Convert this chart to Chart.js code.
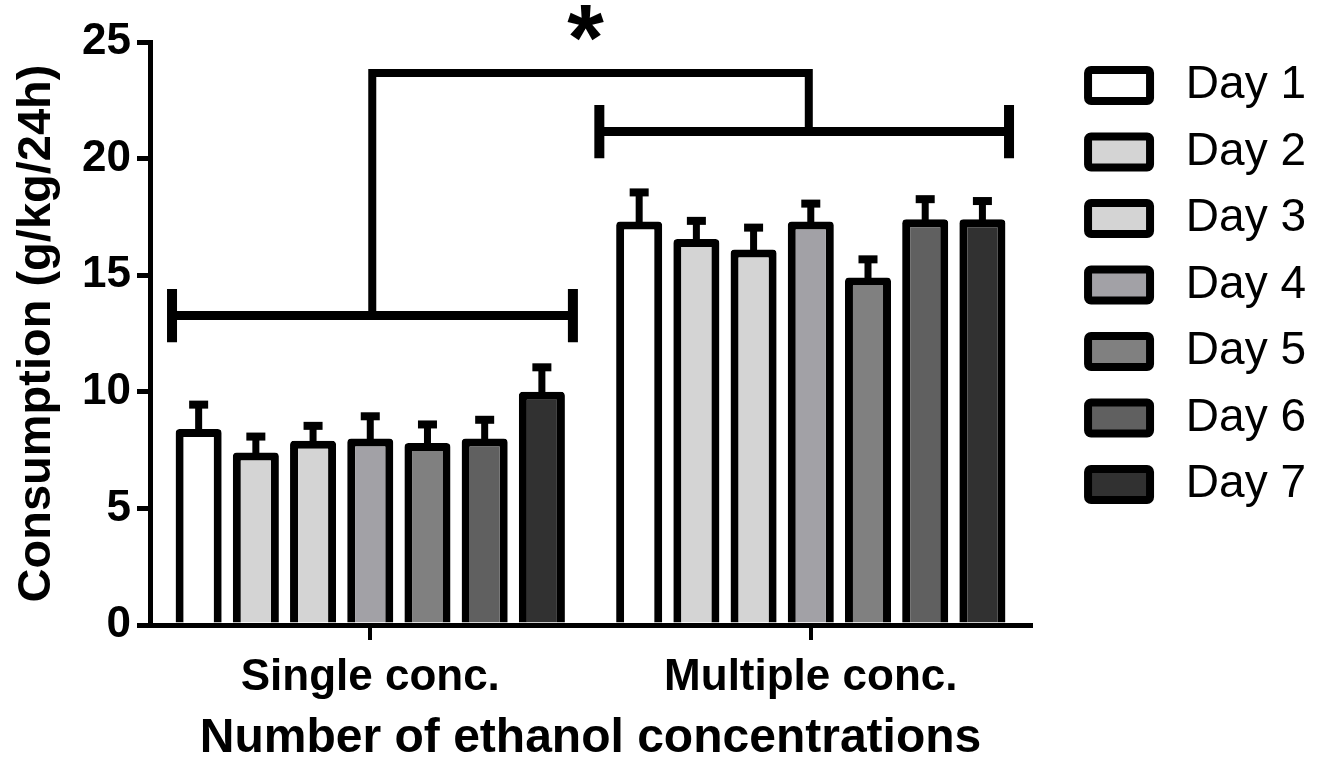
<!DOCTYPE html>
<html>
<head>
<meta charset="utf-8">
<title>Ethanol consumption</title>
<script src="https://cdn.jsdelivr.net/npm/chart.js@4.4.1/dist/chart.umd.min.js"></script>
<style>
  html, body { margin: 0; padding: 0; background: #fff; }
  #consumption { display: block; }
</style>
</head>
<body>
<canvas id="consumption" width="1324" height="760"></canvas>
<script>
// groups on the x axis
var groups = ['Single conc.', 'Multiple conc.'];
var days = ['Day 1', 'Day 2', 'Day 3', 'Day 4', 'Day 5', 'Day 6', 'Day 7'];

// mean consumption (g/kg/24h) per day
var singleMean = [8.4, 7.4, 7.9, 8.0, 7.8, 8.0, 10.0];
var multipleMean = [17.3, 16.55, 16.1, 17.3, 14.9, 17.4, 17.4];

// SEM per day (drawn upwards only)
var singleSem = [1.05, 0.68, 0.64, 0.95, 0.8, 0.8, 1.05];
var multipleSem = [1.25, 0.78, 0.94, 0.77, 0.78, 0.86, 0.78];

var dayColors = ['#ffffff', '#d4d4d4', '#d4d4d4', '#a2a1a6', '#808080', '#606060', '#313131'];

// significance brackets: level of each group bracket and of the link above
var bracketLevels = [13.27, 21.16];
var linkLevel = 23.67;
var starLevel = 25.8;

var FONT = '"Liberation Sans", Arial, Helvetica, sans-serif';

window.onload = function() {

var datasets = days.map(function(d, i) {
    return {
        label: d,
        data: [singleMean[i], multipleMean[i]],
        sem: [singleSem[i], multipleSem[i]],
        backgroundColor: dayColors[i],
        borderColor: '#000',
        borderWidth: 8,
        borderRadius: 4,
        borderSkipped: 'bottom'
    };
});

// one-sided error bars with a flat cap
var errorBars = {
    id: 'errorBars',
    afterDatasetsDraw: function(chart) {
        var ctx = chart.ctx;
        var y = chart.scales.y;
        ctx.save();
        ctx.fillStyle = '#000';
        chart.data.datasets.forEach(function(ds, i) {
            chart.getDatasetMeta(i).data.forEach(function(bar, j) {
                var top = y.getPixelForValue(ds.data[j] + ds.sem[j]);
                ctx.fillRect(bar.x - 3.5, top, 7, bar.y - top + 2);
                ctx.fillRect(bar.x - 9.5, top - 4, 19, 8);
            });
        });
        ctx.restore();
    }
};

// brackets over each group, joined by a link with the star
var brackets = {
    id: 'brackets',
    afterDraw: function(chart) {
        var ctx = chart.ctx;
        var x = chart.scales.x;
        var y = chart.scales.y;
        var catW = x.width / groups.length;
        var spans = [[-0.45, 0.46], [-0.48, 0.45]];
        var tickH = y.getPixelForValue(0) - y.getPixelForValue(1.14);
        ctx.save();
        ctx.strokeStyle = '#000';
        ctx.lineCap = 'butt';
        var centers = [];
        spans.forEach(function(s, i) {
            var c = x.getPixelForValue(i);
            var yy = y.getPixelForValue(bracketLevels[i]);
            var x0 = c + s[0] * catW;
            var x1 = c + s[1] * catW;
            centers.push(c);
            ctx.lineWidth = 9;
            ctx.beginPath();
            ctx.moveTo(x0, yy);
            ctx.lineTo(x1, yy);
            ctx.stroke();
            ctx.lineWidth = 10;
            ctx.beginPath();
            ctx.moveTo(x0, yy - tickH);
            ctx.lineTo(x0, yy + tickH);
            ctx.moveTo(x1, yy - tickH);
            ctx.lineTo(x1, yy + tickH);
            ctx.stroke();
        });
        var top = y.getPixelForValue(linkLevel);
        ctx.lineWidth = 8;
        ctx.lineJoin = 'miter';
        ctx.beginPath();
        ctx.moveTo(centers[0] + 2, y.getPixelForValue(bracketLevels[0]));
        ctx.lineTo(centers[0] + 2, top);
        ctx.lineTo(centers[1] - 2, top);
        ctx.lineTo(centers[1] - 2, y.getPixelForValue(bracketLevels[1]));
        ctx.stroke();

        // star between the two groups
        ctx.fillStyle = '#000';
        ctx.font = 'bold 94px ' + FONT;
        ctx.textAlign = 'center';
        ctx.textBaseline = 'alphabetic';
        var m = ctx.measureText('*');
        var yc = y.getPixelForValue(starLevel);
        ctx.fillText('*', (centers[0] + centers[1]) / 2 - 5,
            yc + (m.actualBoundingBoxAscent - m.actualBoundingBoxDescent) / 2);
        ctx.restore();
    }
};

var ctx = document.getElementById('consumption').getContext('2d');
var chart = new Chart(ctx, {
    type: 'bar',
    data: {
        labels: groups,
        datasets: datasets
    },
    plugins: [errorBars, brackets],
    options: {
        responsive: false,
        animation: false,
        devicePixelRatio: 1,
        categoryPercentage: 0.909,
        barPercentage: 0.805,
        layout: {
            padding: { top: 42, right: 8, bottom: 0, left: 0 }
        },
        plugins: {
            tooltip: { enabled: false },
            legend: {
                position: 'right',
                align: 'start',
                maxWidth: 400,
                labels: {
                    color: '#000',
                    font: { family: FONT, size: 46 },
                    boxWidth: 62,
                    boxHeight: 31,
                    padding: 20.5,
                    useBorderRadius: true,
                    borderRadius: 3,
                    generateLabels: function(chart) {
                        var items = Chart.defaults.plugins.legend.labels.generateLabels(chart);
                        items.forEach(function(it) { it.text = ' ' + it.text; });
                        return items;
                    }
                }
            }
        },
        scales: {
            x: {
                grid: {
                    offset: false,
                    drawOnChartArea: false,
                    drawTicks: true,
                    tickLength: 15,
                    lineWidth: 4,
                    color: '#000'
                },
                border: { display: true, color: '#000', width: 5 },
                ticks: {
                    color: '#000',
                    padding: 11,
                    font: { family: FONT, size: 44, weight: 'bold' }
                },
                title: {
                    display: true,
                    text: 'Number of ethanol concentrations',
                    color: '#000',
                    font: { family: FONT, size: 48, weight: 'bold', lineHeight: 0.9 },
                    padding: { top: 0, bottom: 0 }
                },
                afterFit: function(s) { s.height = 135; }
            },
            y: {
                min: 0,
                max: 25,
                grid: {
                    drawOnChartArea: false,
                    drawTicks: true,
                    tickLength: 13,
                    lineWidth: 5,
                    color: '#000'
                },
                border: { display: true, color: '#000', width: 5 },
                ticks: {
                    stepSize: 5,
                    color: '#000',
                    padding: 6,
                    font: { family: FONT, size: 44, weight: 'bold' }
                },
                title: {
                    display: true,
                    text: 'Consumption (g/kg/24h)',
                    color: '#000',
                    font: { family: FONT, size: 47, weight: 'bold', lineHeight: 1 },
                    padding: { top: 14, bottom: 0 }
                },
                afterFit: function(s) { s.width = 150; }
            },
            // empty spacer between the plot and the legend
            gap: {
                type: 'linear',
                position: 'right',
                grid: { display: false },
                border: { display: false },
                ticks: { display: false },
                afterFit: function(s) { s.width = 36.5; }
            }
        }
    }
});

}
</script>
</body>
</html>
